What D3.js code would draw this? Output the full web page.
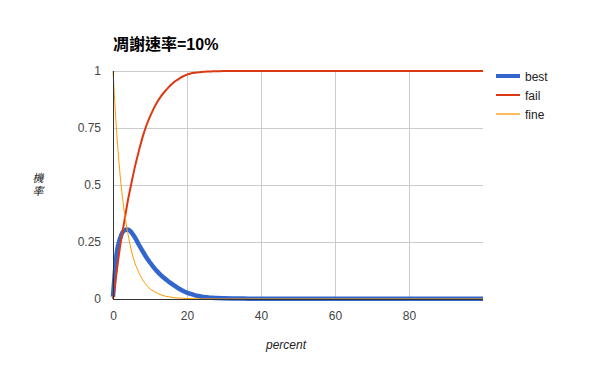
<!DOCTYPE html>
<html>
<head>
<meta charset="utf-8">
<script src="https://cdn.jsdelivr.net/npm/d3@7"></script>
<style>
  body { margin: 0; background: #fff; }
  text { font-family: Arial, "Liberation Sans", "Noto Sans CJK TC", sans-serif; }
</style>
</head>
<body>
<div id="chart"></div>
<script>
var svgWidth = 596
var svgHeight = 371

var title = "凋謝速率=10%"
var xTitle = "percent"
var yTitle = "機率"

var xs = [0, 1, 2, 3, 4, 5, 6, 7, 8, 9, 10, 11, 12, 13, 14, 15, 16, 17, 18, 19, 20,
  21, 22, 23, 24, 25, 26, 27, 28, 30, 35, 40, 50, 60, 70, 80, 90, 100]

var best = [0.01, 0.2, 0.27, 0.3, 0.305, 0.292, 0.268, 0.238, 0.21, 0.183, 0.16,
  0.139, 0.12, 0.104, 0.09, 0.077, 0.065, 0.054, 0.044, 0.035, 0.028,
  0.022, 0.017, 0.013, 0.01, 0.008, 0.006, 0.005, 0.004, 0.003, 0.002, 0.001, 0.001, 0.001, 0.001, 0.001, 0.001, 0.001]

var fail = [0, 0.12, 0.24, 0.335, 0.43, 0.51, 0.585, 0.65, 0.71, 0.76, 0.8,
  0.835, 0.865, 0.89, 0.91, 0.928, 0.944, 0.957, 0.968, 0.977, 0.984,
  0.989, 0.992, 0.994, 0.996, 0.997, 0.998, 0.9985, 0.999, 1, 1, 1, 1, 1, 1, 1, 1, 1]

var fine = [1, 0.73, 0.53, 0.39, 0.29, 0.21, 0.155, 0.115, 0.085, 0.062, 0.045,
  0.034, 0.025, 0.018, 0.013, 0.01, 0.007, 0.005, 0.004, 0.003, 0.002,
  0.0015, 0.001, 0.0008, 0.0006, 0.0005, 0.0003, 0.0002, 0.0001, 0, 0, 0, 0, 0, 0, 0, 0, 0]

var xTicks = [0, 20, 40, 60, 80]
var yTicks = [0, 0.25, 0.5, 0.75, 1]

var seriesNames = ["best", "fail", "fine"]
var seriesColors = ["#3366cc", "#dc3912", "#ff9900"]
var seriesWidths = [4.5, 2, 1]

var margin = { top: 71, left: 113, right: 113, bottom: 72 }
var width = 370
var height = 228

var svg = d3.select("#chart")
  .append("svg")
  .attr("width", svgWidth)
  .attr("height", svgHeight)

var chartGroup = svg.append("g")
  .attr("transform", `translate(${margin.left}, ${margin.top})`)

var xScale = d3.scaleLinear().domain([0, 100]).range([0, width])
var yScale = d3.scaleLinear().domain([0, 1]).range([height, 0])

// gridlines
chartGroup.append("g")
  .selectAll("line")
  .data(yTicks.filter(d => d > 0))
  .enter()
  .append("line")
  .attr("x1", 0)
  .attr("x2", width)
  .attr("y1", d => Math.round(yScale(d)) + 0.5)
  .attr("y2", d => Math.round(yScale(d)) + 0.5)
  .attr("stroke", "#cccccc")

chartGroup.append("g")
  .selectAll("line")
  .data(xTicks.filter(d => d > 0))
  .enter()
  .append("line")
  .attr("x1", d => Math.round(xScale(d)) + 0.5)
  .attr("x2", d => Math.round(xScale(d)) + 0.5)
  .attr("y1", 0)
  .attr("y2", height)
  .attr("stroke", "#cccccc")

// axes (labels only, google style)
var bottomAxis = d3.axisBottom(xScale).tickValues(xTicks).tickSize(0).tickPadding(12)
var leftAxis = d3.axisLeft(yScale).tickValues(yTicks).tickSize(0).tickPadding(12)
  .tickFormat(d => d3.format("")(d))

var gx = chartGroup.append("g")
  .attr("transform", `translate(0, ${height})`)
  .call(bottomAxis)
var gy = chartGroup.append("g")
  .call(leftAxis)

;[gx, gy].forEach(g => {
  g.select(".domain").remove()
  g.selectAll("text")
    .attr("font-size", 12)
    .attr("fill", "#444")
    .style("font-family", "Arial, 'Liberation Sans', sans-serif")
})

// lines
var data = [best, fail, fine]
var line = d3.line()
  .x((d, i) => xScale(xs[i]))
  .y(d => yScale(d))
  .curve(d3.curveMonotoneX)

data.forEach((vals, k) => {
  chartGroup.append("path")
    .datum(vals)
    .attr("d", line)
    .attr("fill", "none")
    .attr("stroke", seriesColors[k])
    .attr("stroke-width", seriesWidths[k])
    .attr("stroke-linejoin", "round")
})

// baselines
chartGroup.append("line")
  .attr("x1", 0).attr("x2", width)
  .attr("y1", height + 0.5).attr("y2", height + 0.5)
  .attr("stroke", "#333")
chartGroup.append("line")
  .attr("x1", 0.5).attr("x2", 0.5)
  .attr("y1", 0).attr("y2", height + 1)
  .attr("stroke", "#333")

// title
svg.append("text")
  .attr("x", 113)
  .attr("y", 50)
  .attr("font-size", 16)
  .attr("font-weight", "bold")
  .attr("fill", "#000")
  .text(title)

// axis titles
svg.append("text")
  .attr("x", margin.left + width / 2 - 12)
  .attr("y", 349)
  .attr("text-anchor", "middle")
  .attr("font-size", 12)
  .attr("font-style", "italic")
  .attr("fill", "#222")
  .text(xTitle)

// y title: characters stacked vertically
svg.append("g")
  .selectAll("text")
  .data(yTitle.split(""))
  .enter()
  .append("text")
  .attr("x", 38)
  .attr("y", (d, i) => 182 + i * 13)
  .attr("font-size", 11)
  .attr("font-style", "italic")
  .attr("fill", "#222")
  .attr("text-anchor", "middle")
  .text(d => d)

// legend
var legend = svg.append("g")
  .attr("transform", "translate(496, 76)")
seriesNames.forEach((name, k) => {
  var row = legend.append("g").attr("transform", `translate(0, ${k * 19})`)
  row.append("line")
    .attr("x1", 0).attr("x2", 24)
    .attr("y1", 0).attr("y2", 0)
    .attr("stroke", seriesColors[k])
    .attr("stroke-width", k == 0 ? 4 : 2)
    .attr("stroke-opacity", k == 2 ? 0.65 : 1)
  row.append("text")
    .attr("x", 29)
    .attr("y", 4.5)
    .attr("font-size", 12)
    .attr("fill", "#222")
    .text(name)
})
</script>
</body>
</html>
